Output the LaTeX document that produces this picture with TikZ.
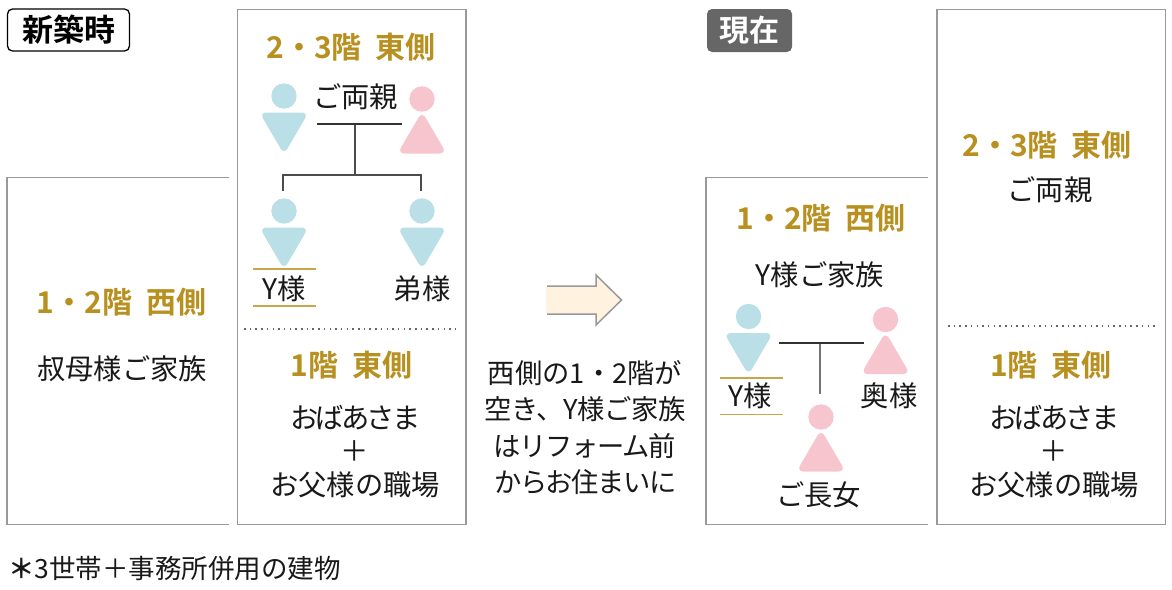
\documentclass[tikz,border=0pt]{standalone}
\usepackage{fontspec}
\setmainfont{Noto Sans CJK JP}
\newfontfamily\jpbold{Noto Sans CJK JP Bold}
\definecolor{gold}{HTML}{B8901F}
\definecolor{goldline}{HTML}{C8A64A}
\definecolor{boxgray}{HTML}{999999}
\definecolor{blueperson}{HTML}{BADFE7}
\definecolor{pinkperson}{HTML}{F7C5CE}
\definecolor{arrowfill}{HTML}{FFF3DF}
\newcommand{\hgap}{\hspace{14pt}}
\newcommand{\tightkana}{\addfontfeature{LetterSpace=-10}}
\newcommand{\slightkana}{\addfontfeature{LetterSpace=-5}}
\tikzset{
  x=1pt,y=-1pt,
  panel/.style={draw=boxgray,line width=1.5pt},
  body/.style={inner sep=0pt,font=\fontsize{28.3}{28.3}\selectfont,text=black!90},
  note/.style={inner sep=0pt,font=\fontsize{27.3}{27.3}\selectfont,text=black!90},
  heading/.style={inner sep=0pt,font=\jpbold\fontsize{30}{30}\selectfont,text=gold},
  link/.style={draw=black!80,line width=1.8pt},
  branch/.style={draw=black!70,line width=2pt},
  rule/.style={draw=goldline,line width=1.4pt},
  dotrule/.style={draw=black!60,line width=1.5pt,dash pattern=on 1.5pt off 4.2pt},
  man/.pic={
    \fill[blueperson] (0,0) circle (12.7);
    \fill[blueperson,rounded corners=7pt] (-24.5,16.5) -- (24.5,16.5) -- (0,58.5) -- cycle;
  },
  woman/.pic={
    \fill[pinkperson] (0,0) circle (12.7);
    \fill[pinkperson,rounded corners=7pt] (-24.5,54.5) -- (24.5,54.5) -- (0,12.5) -- cycle;
  },
}
\begin{document}
\begin{tikzpicture}
\useasboundingbox (0,0) rectangle (1172,589);
% tags
\node[draw=black,line width=1.3pt,rounded corners=5pt,minimum width=122pt,minimum height=42pt,inner sep=0pt,font=\jpbold\fontsize{31}{31}\selectfont] (tagnew) at (68.5,30) {新築時};
\node[fill=black!60,rounded corners=5pt,minimum width=85pt,minimum height=43pt,inner sep=0pt,text=white,font=\jpbold\fontsize{30}{30}\selectfont] (tagnow) at (749.5,30.5) {現在};
% panels
\draw[panel] (229,177.5) -- (7,177.5) -- (7,524.5) -- (229,524.5);
\draw[panel] (237.5,9.5) rectangle (466,524.5);
\draw[panel] (928,177.5) -- (706,177.5) -- (706,524.5) -- (928,524.5);
\draw[panel] (937,9.5) rectangle (1165.5,524.5);
\draw[dotrule] (244,329) -- (458,329);
\draw[dotrule] (948,326) -- (1156,326);
% left panel
\node[heading] (h1) at (121.5,302) {1・2階\hgap 西側};
\node[body] (t1) at (122,368.5) {叔母様ご家族};
% middle panel
\node[heading] (h2) at (351,47) {2・3階\hgap 東側};
\node[body] (t2) at (355.5,96.5) {ご両親};
\pic at (284,96) {man};
\pic at (422,99) {woman};
\pic at (284,211) {man};
\pic at (422,211) {man};
\node[body] (y1) at (284,288.5) {Y様};
\node[body] (b1) at (422,288.5) {弟様};
\coordinate (pa) at (317,124);
\coordinate (pb) at (402,124);
\coordinate (pm) at (354.5,124);
\coordinate (pj) at (354.5,174.5);
\coordinate (cl) at (283,191);
\coordinate (cr) at (421,191);
\draw[branch] (pm) -- (pj);
\draw[branch] (cl) |- (pj) -| (cr);
\draw[link] (pa) -- (pb);
\draw[rule] (253,269) -- (316,269) (253,306) -- (316,306);
\node[heading] (h3) at (351.5,365) {1階\hgap 東側};
\node[body] (t3) at (355.5,417.5) {\tightkana おばあさま};
\node[body] (t4) at (355,451) {＋};
\node[body] (t5) at (355,484.5) {お父様の職場};
% arrow
\draw[draw=boxgray,line width=1.5pt,fill=arrowfill] (547,286) -- (596,286) -- (596,275) -- (621.5,300) -- (596,325) -- (596,314) -- (547,314);
\fill[arrowfill] (546,287) rectangle (548,313);
\node[note] (n1) at (585,373.5) {西側の1・2階が};
\node[note] (n2) at (585,409.5) {\addfontfeature{LetterSpace=-1}空き、Y様ご家族};
\node[note] (n3) at (585,446.5) {\slightkana はリフォーム前};
\node[note] (n4) at (585.5,482.5) {\slightkana からお住まいに};
% now panel
\node[heading] (h4) at (821,218) {1・2階\hgap 西側};
\node[body] (t6) at (820,274.5) {Y様ご家族};
\pic at (748.5,316.5) {man};
\pic at (885.5,319.5) {woman};
\pic at (821,417) {woman};
\node[body] (y2) at (750,395.5) {Y様};
\node[body] (w2) at (889,395.5) {奥様};
\node[body] (d2) at (818.5,494.5) {ご長女};
\coordinate (qa) at (779,343);
\coordinate (qb) at (864,343);
\coordinate (qm) at (820,343);
\coordinate (qd) at (820,394);
\draw[branch,draw=black!55] (qm) -- (qd);
\draw[link] (qa) -- (qb);
\draw[rule] (720,378) -- (783,378) (720,414.5) -- (783,414.5);
% right panel
\node[heading] (h5) at (1047,145) {2・3階\hgap 東側};
\node[body] (t7) at (1050,189.5) {ご両親};
\node[heading] (h6) at (1051,365) {1階\hgap 東側};
\node[body] (t8) at (1054.5,417.5) {\tightkana おばあさま};
\node[body] (t9) at (1054,451) {＋};
\node[body] (t10) at (1054,484.5) {お父様の職場};
% footnote
\node[anchor=west,inner sep=0pt,font=\fontsize{26.5}{26.5}\selectfont,text=black!90] (foot) at (8,569) {{\jpbold ＊}3世帯＋事務所併用の建物};
\end{tikzpicture}
\end{document}
